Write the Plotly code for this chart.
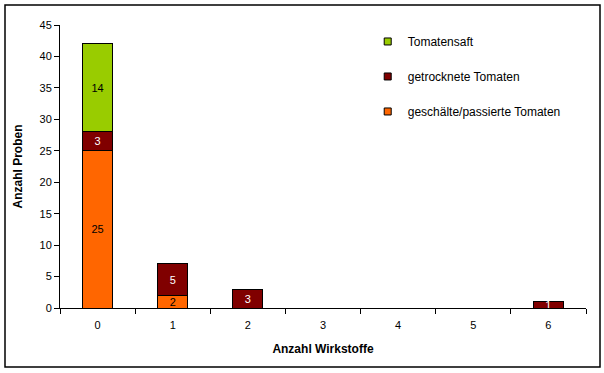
import plotly.graph_objects as go

categories = ["0", "1", "2", "3", "4", "5", "6"]
geschaelte = [25, 2, 0, 0, 0, 0, 0]
getrocknete = [3, 5, 3, 0, 0, 0, 1]
tomatensaft = [14, 0, 0, 0, 0, 0, 0]
y_ticks = [0, 5, 10, 15, 20, 25, 30, 35, 40, 45]

FONT = "Liberation Sans, Arial, sans-serif"

series = [
    ("geschälte/passierte Tomaten", geschaelte, "#FF6600", "black"),
    ("getrocknete Tomaten", getrocknete, "#800000", "white"),
    ("Tomatensaft", tomatensaft, "#99CC00", "black"),
]

fig = go.Figure()
for i, (name, vals, color, tcol) in enumerate(series):
    fig.add_trace(go.Bar(
        name=name,
        x=categories,
        y=[v if v else None for v in vals],
        text=[str(v) if v else "" for v in vals],
        textposition="inside",
        insidetextanchor="middle",
        textangle=0,
        textfont=dict(family=FONT, size=11, color=tcol),
        marker=dict(color=color, line=dict(color="black", width=1)),
        width=0.4,
        showlegend=False,
        hoverinfo="skip",
    ))
    # legend-only entry with a small square symbol
    fig.add_trace(go.Scatter(
        name=name, x=[None], y=[None], mode="markers",
        marker=dict(symbol="square", size=7, color=color, line=dict(color="black", width=1)),
        legendgroup=str(i), legendrank=len(series) - i,
        showlegend=True, hoverinfo="skip",
    ))

fig.update_layout(
    barmode="stack",
    width=604, height=373,
    margin=dict(l=60, r=18, t=25, b=65),
    paper_bgcolor="white", plot_bgcolor="white",
    font=dict(family=FONT, size=11, color="black"),
    uniformtext=dict(minsize=11, mode="show"),
    showlegend=True,
    legend=dict(
        x=0.585, y=0.993, xanchor="left", yanchor="top",
        traceorder="grouped", tracegroupgap=16,
        font=dict(family=FONT, size=12, color="black"),
        bgcolor="rgba(0,0,0,0)",
    ),
    xaxis=dict(
        type="category", tickson="boundaries",
        showline=True, linecolor="black", linewidth=1,
        ticks="outside", ticklen=5, tickcolor="black",
        ticklabelstandoff=7,
        showgrid=False, zeroline=False,
        tickfont=dict(family=FONT, size=11),
        title=dict(text="<b>Anzahl Wirkstoffe</b>", font=dict(family=FONT, size=12), standoff=14),
    ),
    yaxis=dict(
        range=[0, 45], tickvals=y_ticks,
        showline=True, linecolor="black", linewidth=1,
        ticks="outside", ticklen=5, tickcolor="black",
        showgrid=False, zeroline=False,
        tickfont=dict(family=FONT, size=11),
        title=dict(text="<b>Anzahl Proben</b>", font=dict(family=FONT, size=12), standoff=14),
    ),
)

fig.add_shape(type="rect", xref="paper", yref="paper",
              x0=(5 - 60) / 526, x1=(600 - 60) / 526,
              y0=(308 - 367) / 283, y1=(308 - 5) / 283,
              line=dict(color="black", width=1.5), layer="below")

fig.write_html("out.html", config={"displayModeBar": False},
               post_script="document.body.style.margin='0px';document.body.style.overflow='hidden';")
